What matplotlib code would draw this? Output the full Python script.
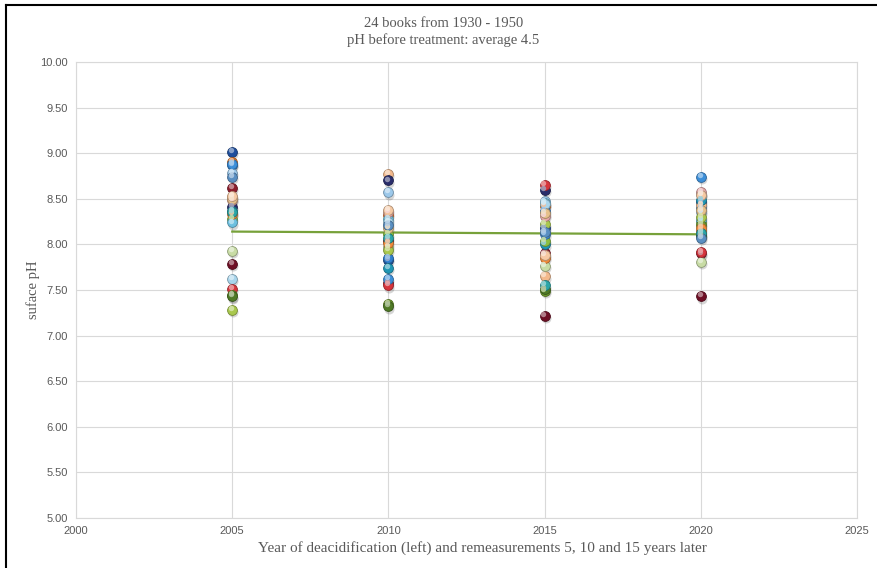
#!/usr/bin/env python3
"""Surface pH of 24 deacidified books, measured in 2005 and again 5, 10 and 15 years later."""
import matplotlib

matplotlib.use("Agg")
import matplotlib.pyplot as plt
from matplotlib.colors import to_rgb
from matplotlib.lines import Line2D
from matplotlib.transforms import offset_copy

years = [2005, 2010, 2015, 2020]

# one colour per book (index = book number)
book_colors = [
    "#1f4e9c", "#e87722", "#2f7fcf", "#9cc8ea", "#8c1d2c", "#f3b98c",
    "#2a2d6b", "#1f97b5", "#8cbf3f", "#6cc0e0", "#c8dca5", "#6e0f25",
    "#a8d5ec", "#d6343c", "#6f9a2c", "#a9c84d", "#e8a7a8", "#e6c08a",
    "#4f7a26", "#3d8fd9", "#f08a3a", "#2aa6a8", "#f6c9a3", "#5a8fc2",
]

# surface pH per book, same order as book_colors
ph_2005 = [9.01, 8.90, 8.87, 8.78, 8.62, 8.52, 8.41, 8.37, 8.28, 8.24, 7.93, 7.79,
           7.62, 7.51, 7.44, 7.28, 8.49, 8.50, 7.43, 8.88, 8.33, 8.35, 8.53, 8.74]
ph_2010 = [7.83, 8.32, 7.85, 8.57, 7.58, 8.77, 8.70, 7.74, 8.11, 8.28, 7.97, 8.04,
           8.25, 7.55, 7.35, 7.94, 8.35, 8.18, 7.32, 7.62, 8.01, 8.07, 8.38, 8.21]
ph_2015 = [8.18, 8.42, 8.37, 8.47, 7.90, 7.65, 8.60, 8.00, 8.04, 8.45, 7.76, 7.22,
           8.44, 8.65, 7.49, 8.22, 8.31, 8.34, 7.51, 8.11, 7.85, 7.55, 7.88, 8.14]
ph_2020 = [8.46, 8.15, 8.40, 8.36, 7.90, 8.43, 8.10, 8.49, 8.24, 8.27, 7.81, 7.43,
           8.55, 7.92, 8.21, 8.30, 8.57, 8.38, 8.09, 8.74, 8.18, 8.12, 8.54, 8.07]

# linear trend line (start and end)
trend_years = [2005, 2020]
trend_ph = [8.14, 8.11]

GREY = "#595959"
GRID = "#d9d9d9"
SERIF = "Liberation Serif"
SANS = "Liberation Sans"

fig = plt.figure(figsize=(8.77, 5.68), dpi=100)
ax = fig.add_axes([0.0867, 0.088, 0.8906, 0.803])

ax.plot(trend_years, trend_ph, color="#77a13a", lw=1.6, zorder=2)


def shade(c, f):
    r, g, b = to_rgb(c)
    return (r * f, g * f, b * f)


def lighten(c, f):
    r, g, b = to_rgb(c)
    return (r + (1 - r) * f, g + (1 - g) * f, b + (1 - b) * f)


shadow_tr = offset_copy(ax.transData, fig=fig, x=0.6, y=-1.6, units="points")
hl_tr = offset_copy(ax.transData, fig=fig, x=-0.9, y=1.4, units="points")

series = [ph_2005, ph_2010, ph_2015, ph_2020]
for i, col in enumerate(book_colors):
    xs = years
    ys = [s[i] for s in series]
    # soft shadow, ball, highlight
    ax.scatter(xs, ys, s=52, color="#000000", alpha=0.16, lw=0,
               transform=shadow_tr, zorder=3)
    ax.scatter(xs, ys, s=50, color=col, edgecolor=shade(col, 0.7), lw=0.6, zorder=4)
    ax.scatter(xs, ys, s=15, color=lighten(col, 0.55), alpha=0.85, lw=0,
               transform=hl_tr, zorder=5)

ax.set_xlim(2000, 2025)
ax.set_ylim(5, 10)
ax.set_xticks(range(2000, 2026, 5))
ax.set_yticks([5 + 0.5 * k for k in range(11)])
ax.set_yticklabels([f"{5 + 0.5 * k:.2f}" for k in range(11)])
ax.grid(True, color=GRID, lw=0.8)
ax.set_axisbelow(True)
for sp in ax.spines.values():
    sp.set_color(GRID)
    sp.set_linewidth(0.8)
ax.tick_params(length=0, labelsize=8, labelcolor=GREY, pad=6)
for lab in ax.get_xticklabels() + ax.get_yticklabels():
    lab.set_fontfamily(SANS)

ax.set_ylabel("suface pH", fontsize=10.5, color=GREY, family=SERIF, labelpad=0)
ax.set_xlabel("Year of deacidification (left) and remeasurements 5, 10 and 15 years later",
              fontsize=11, color=GREY, family=SERIF)
ax.xaxis.set_label_coords(0.52, -0.05)

fig.text(0.5057, 0.9595, "24 books from 1930 - 1950", ha="center", va="center",
         fontsize=10.5, color=GREY, family=SERIF)
fig.text(0.5057, 0.9296, "pH before treatment: average 4.5", ha="center", va="center",
         fontsize=10.5, color=GREY, family=SERIF)

# frame on the left and top edges
fig.add_artist(Line2D([0.007, 0.007], [0, 0.991], transform=fig.transFigure,
                      color="black", lw=1.5))
fig.add_artist(Line2D([0.007, 1.0], [0.991, 0.991], transform=fig.transFigure,
                      color="black", lw=1.5))

fig.savefig("out.png", dpi=100)
